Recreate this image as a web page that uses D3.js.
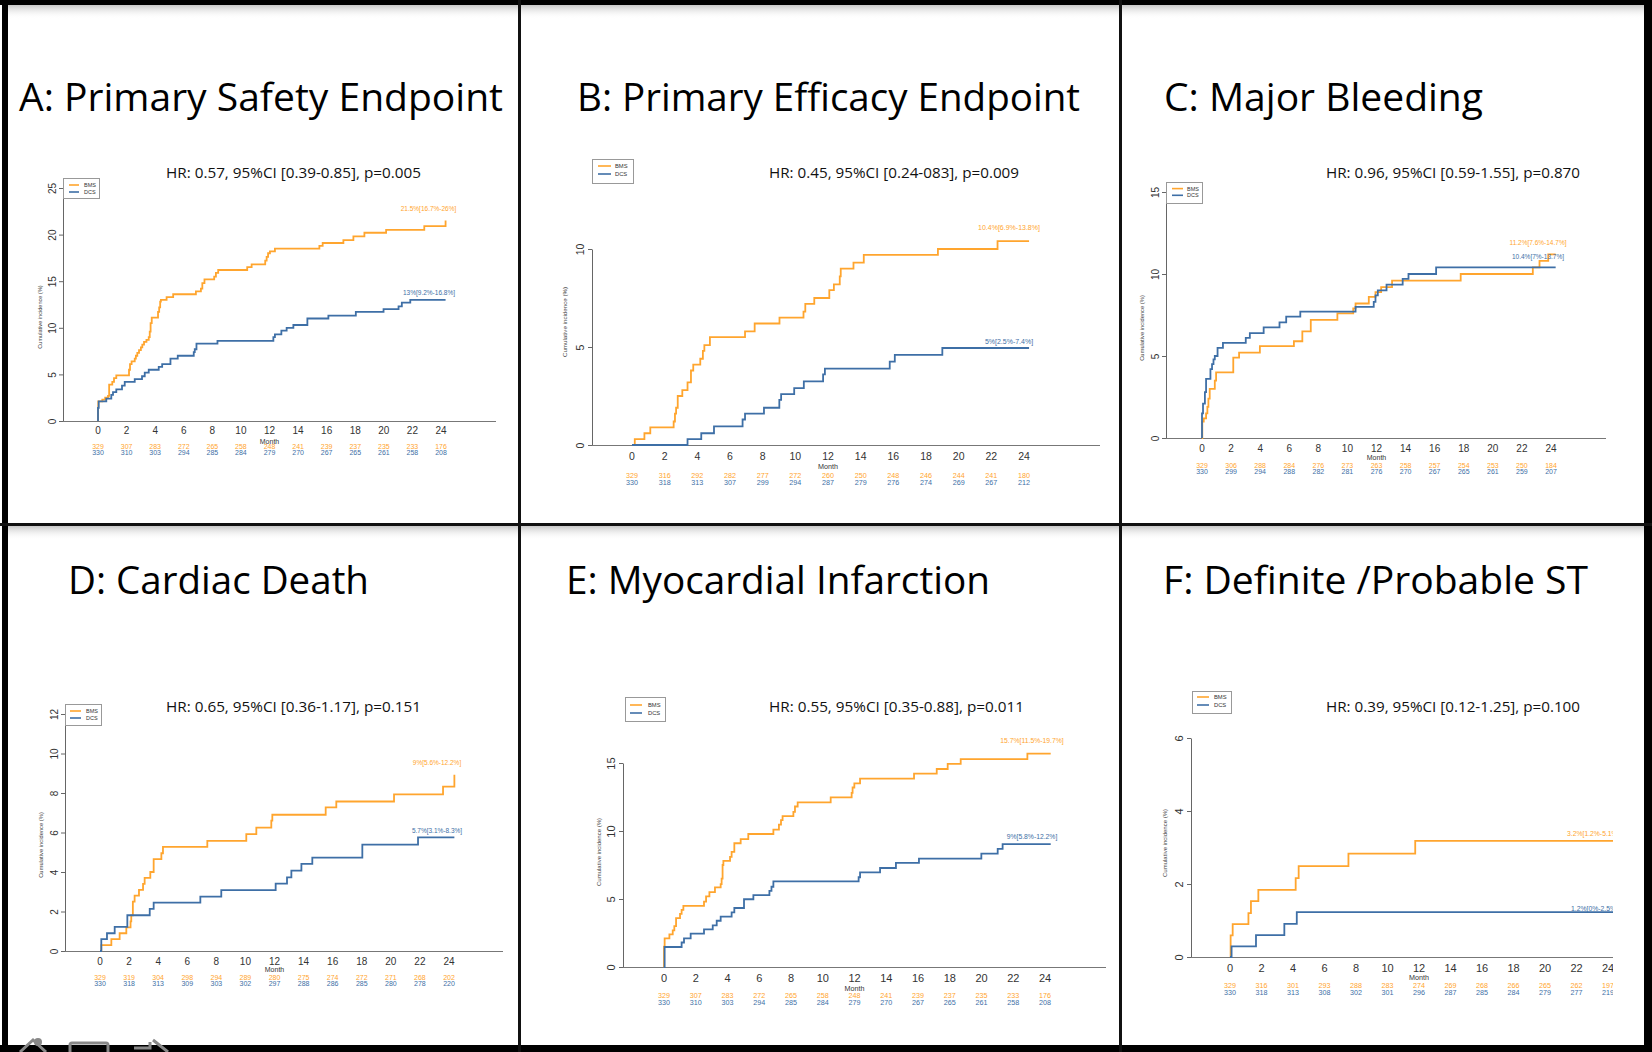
<!DOCTYPE html>
<html><head><meta charset="utf-8">
<script src="https://cdn.jsdelivr.net/npm/d3@7"></script>
<style>html,body{margin:0;padding:0;background:#fff;} svg{display:block;}</style>
</head><body>
<svg id="c" width="1652" height="1052"></svg>
<script>
// ---------------- DATA ----------------
const months = [0,2,4,6,8,10,12,14,16,18,20,22,24];
const seriesNames = ["BMS","DCS"];
const panelTitles = ["A: Primary Safety Endpoint","B: Primary Efficacy Endpoint","C: Major Bleeding",
                     "D: Cardiac Death","E: Myocardial Infarction","F: Definite /Probable ST"];
const hrTexts = ["HR: 0.57, 95%CI [0.39-0.85], p=0.005","HR: 0.45, 95%CI [0.24-083], p=0.009",
                 "HR: 0.96, 95%CI [0.59-1.55], p=0.870","HR: 0.65, 95%CI [0.36-1.17], p=0.151",
                 "HR: 0.55, 95%CI [0.35-0.88], p=0.011","HR: 0.39, 95%CI [0.12-1.25], p=0.100"];
const yTicksA = [0,5,10,15,20,25];
const yTicksB = [0,5,10];
const yTicksC = [0,5,10,15];
const yTicksD = [0,2,4,6,8,10,12];
const yTicksE = [0,5,10,15];
const yTicksF = [0,2,4,6];

const bmsA = [[0,0],[0,1.4],[0.02,2.1],[0.3,2.3],[0.5,2.5],[0.7,2.7],[0.78,3.9],[1.0,4.2],[1.12,4.6],[1.28,4.9],[2.17,5.5],[2.24,6.1],[2.35,6.4],[2.57,6.7],[2.65,7.0],[2.75,7.3],[2.87,7.6],[3.0,7.9],[3.1,8.2],[3.22,8.5],[3.39,8.7],[3.55,9.0],[3.62,9.6],[3.68,10.5],[3.76,11.1],[4.2,11.7],[4.28,12.2],[4.35,12.8],[4.4,13.0],[4.8,13.3],[5.26,13.6],[6.85,13.9],[7.2,14.2],[7.3,14.8],[7.45,15.2],[8.13,15.5],[8.25,15.9],[8.41,16.2],[10.44,16.5],[10.75,16.8],[11.7,17.2],[11.8,17.6],[11.9,18.0],[12.03,18.2],[12.38,18.5],[15.49,18.8],[15.72,19.1],[17.17,19.4],[17.87,19.8],[18.64,20.2],[20.16,20.5],[22.83,20.9],[24.32,21.5]];
const dcsA = [[0,0],[0,1.4],[0.05,2.1],[0.58,2.4],[0.93,2.8],[1.05,3.1],[1.28,3.4],[1.68,3.8],[1.87,4.2],[2.57,4.5],[3.08,4.8],[3.27,5.2],[3.55,5.5],[4.25,5.8],[4.49,6.1],[5.07,6.7],[5.58,7.0],[6.7,7.4],[6.77,7.7],[6.89,8.3],[8.36,8.6],[12.27,9.0],[12.38,9.3],[12.83,9.7],[13.2,10.0],[13.67,10.3],[14.65,11.0],[16.12,11.3],[18.04,11.7],[19.98,12.0],[21.03,12.3],[21.26,12.7],[21.85,13.0],[24.32,13.0]];
const bmsB = [[0,0],[0.06,0],[0.17,0.3],[0.76,0.6],[1.12,0.9],[2.55,1.2],[2.63,1.6],[2.7,1.9],[2.8,2.5],[3.08,2.8],[3.4,3.2],[3.61,3.8],[3.75,4.1],[4.18,4.4],[4.34,4.8],[4.43,5.1],[4.77,5.5],[6.92,5.8],[7.51,6.2],[9.03,6.5],[10.5,6.8],[10.61,7.2],[11.16,7.5],[12.08,7.9],[12.36,8.2],[12.72,8.6],[12.78,9.0],[13.56,9.3],[14.19,9.7],[18.73,10.0],[22.38,10.4],[24.31,10.4]];
const dcsB = [[0,0],[3.4,0.3],[4.24,0.6],[5.02,0.95],[6.77,1.3],[6.92,1.6],[8.08,1.9],[9.02,2.3],[9.13,2.6],[9.93,2.9],[10.52,3.25],[11.7,3.6],[11.81,3.9],[15.78,4.25],[16.09,4.6],[19.0,4.95],[24.31,4.95]];
const bmsC = [[0,0],[0.02,1.0],[0.12,1.2],[0.28,1.5],[0.37,1.9],[0.44,2.4],[0.53,3.0],[0.88,3.5],[0.97,4.0],[2.15,4.9],[2.55,5.2],[3.98,5.6],[6.32,5.9],[6.9,6.5],[7.48,7.2],[9.31,7.6],[10.4,7.9],[10.56,8.2],[11.47,8.6],[11.93,8.9],[12.32,9.2],[13.07,9.6],[17.79,10.0],[22.75,10.4],[23.21,10.8],[23.81,11.2],[24.32,11.2]];
const dcsC = [[0,0],[0,1.5],[0.07,2.1],[0.2,2.8],[0.28,3.6],[0.58,4.2],[0.69,4.5],[0.79,4.8],[0.88,5.0],[1.07,5.5],[1.44,5.8],[3.01,6.1],[3.29,6.4],[4.24,6.75],[5.33,7.05],[5.79,7.4],[6.76,7.7],[10.56,8.0],[11.81,8.3],[11.93,8.7],[12.09,9.0],[12.69,9.35],[13.8,9.7],[14.2,10.0],[16.1,10.4],[24.32,10.4]];
const bmsD = [[0,0],[0.09,0.3],[0.78,0.6],[1.35,0.9],[1.81,1.2],[2.1,1.5],[2.15,1.8],[2.26,2.5],[2.38,2.8],[2.68,3.1],[2.96,3.4],[3.07,3.7],[3.46,4.0],[3.69,4.65],[4.22,4.95],[4.33,5.27],[7.38,5.58],[10.06,5.92],[10.75,6.25],[11.78,6.6],[11.85,6.9],[15.52,7.27],[16.25,7.57],[20.22,7.93],[23.59,8.32],[24.37,8.92]];
const dcsD = [[0,0],[0.09,0.6],[0.48,0.9],[1.01,1.22],[1.88,1.81],[3.42,2.13],[3.69,2.45],[6.9,2.75],[8.34,3.08],[12.08,3.41],[12.86,3.73],[13.16,4.07],[13.85,4.41],[14.6,4.73],[18.04,5.39],[21.87,5.75],[24.37,5.75]];
const bmsE = [[0,0],[0,1.5],[0.04,2.1],[0.34,2.4],[0.55,2.7],[0.65,3.0],[0.76,3.6],[1.01,3.9],[1.11,4.2],[1.22,4.5],[2.52,4.8],[2.65,5.2],[2.86,5.5],[3.21,5.85],[3.57,6.1],[3.63,6.5],[3.69,7.5],[3.74,7.8],[4.16,8.1],[4.26,8.46],[4.43,9.1],[4.83,9.4],[5.31,9.78],[6.89,10.1],[7.24,10.47],[7.37,10.8],[7.47,11.1],[8.15,11.4],[8.25,11.8],[8.42,12.1],[10.5,12.47],[11.82,12.8],[11.88,13.2],[11.99,13.5],[12.35,13.85],[15.75,14.22],[17.18,14.56],[17.87,14.93],[18.69,15.29],[22.89,15.69],[24.36,15.69]];
const dcsE = [[0,0],[0.04,1.47],[1.11,1.8],[1.26,2.11],[1.68,2.45],[2.52,2.77],[3.07,3.06],[3.32,3.4],[3.57,3.7],[4.26,4.02],[4.43,4.34],[5.04,4.98],[5.63,5.29],[6.64,5.6],[6.77,5.9],[6.89,6.3],[12.26,6.6],[12.35,6.96],[13.61,7.28],[14.61,7.65],[16.06,7.97],[19.99,8.33],[21.02,8.68],[21.33,9.04],[24.36,9.04]];
const bmsF = [[0,0],[0.04,0.59],[0.17,0.9],[1.17,1.2],[1.33,1.53],[1.8,1.84],[4.17,2.16],[4.36,2.49],[7.52,2.83],[11.76,3.18],[24.4,3.18]];
const dcsF = [[0,0],[0.1,0.29],[1.65,0.6],[3.45,0.91],[4.24,1.23],[24.4,1.23]];

const riskBmsA = [329,307,283,272,265,258,248,241,239,237,235,233,176];
const riskDcsA = [330,310,303,294,285,284,279,270,267,265,261,258,208];
const riskBmsB = [329,316,292,282,277,272,260,250,248,246,244,241,180];
const riskDcsB = [330,318,313,307,299,294,287,279,276,274,269,267,212];
const riskBmsC = [329,306,288,284,276,273,263,258,257,254,253,250,184];
const riskDcsC = [330,299,294,288,282,281,276,270,267,265,261,259,207];
const riskBmsD = [329,319,304,298,294,289,280,275,274,272,271,268,202];
const riskDcsD = [330,318,313,309,303,302,297,288,286,285,280,278,220];
const riskBmsE = [329,307,283,272,265,258,248,241,239,237,235,233,176];
const riskDcsE = [330,310,303,294,285,284,279,270,267,265,261,258,208];
const riskBmsF = [329,316,301,293,288,283,274,269,268,266,265,262,197];
const riskDcsF = [330,318,313,308,302,301,296,287,285,284,279,277,219];

const endLabelsA = ["21.5%[16.7%-26%]","13%[9.2%-16.8%]"];
const endLabelsB = ["10.4%[6.9%-13.8%]","5%[2.5%-7.4%]"];
const endLabelsC = ["11.2%[7.6%-14.7%]","10.4%[7%-13.7%]"];
const endLabelsD = ["9%[5.6%-12.2%]","5.7%[3.1%-8.3%]"];
const endLabelsE = ["15.7%[11.5%-19.7%]","9%[5.8%-12.2%]"];
const endLabelsF = ["3.2%[1.2%-5.1%]","1.2%[0%-2.5%]"];

const yMaxes = [25,10,15,12,15,6];
const yAxisTitle = "Cumulative incidence (%)";
const xAxisTitle = "Month";

// ---------------- LAYOUT (positions/styles only) ----------------
const COL = {BMS:"#FFA52E", DCS:"#3E6FA6"};
const layout = [
 {titleX:19, titleW:484, titleY:111, hrCX:293.5, hrW:255, hrY:178, axX:63, x0:98, x24:441, y0:421, yTop:188, xEnd:496,
  tickY:433.5, monthY:443.5, r1:448.5, r2:454.5, fs:10, rfs:7,
  lg:{x:63,y:178,w:36,h:20,lx1:69,lx2:79,ly1:185,ly2:192,tx:84,fs:5.5}, ytX:40, ytY:317, ytFs:5.6,
  ann:[[428.5,209],[429,293]], annAnchor:"middle", annFs:6.5, clip:null},
 {titleX:577, titleW:503, titleY:111, hrCX:894, hrW:250, hrY:178, axX:592, x0:632, x24:1024, y0:445, yTop:249, xEnd:1100,
  tickY:460, monthY:468.5, r1:477.5, r2:484.5, fs:10.5, rfs:7.2,
  lg:{x:592,y:159,w:41,h:24,lx1:598,lx2:611,ly1:166,ly2:174,tx:615,fs:5.8}, ytX:565, ytY:322, ytFs:6.2,
  ann:[[1009,228],[1009,342]], annAnchor:"middle", annFs:7, clip:null},
 {titleX:1164, titleW:319, titleY:111, hrCX:1453, hrW:254, hrY:178, axX:1166, x0:1202, x24:1551, y0:438, yTop:192, xEnd:1606,
  tickY:451.5, monthY:459.5, r1:467.5, r2:473.5, fs:10, rfs:7,
  lg:{x:1166,y:182,w:36,h:21,lx1:1172,lx2:1183,ly1:188.6,ly2:195.3,tx:1187,fs:5.5}, ytX:1142, ytY:328, ytFs:5.8,
  ann:[[1538,243],[1538,257]], annAnchor:"middle", annFs:6.5, clip:null},
 {titleX:68, titleW:301, titleY:594, hrCX:293.5, hrW:255, hrY:712, axX:65, x0:100, x24:449, y0:951, yTop:714, xEnd:503,
  tickY:964.5, monthY:971.5, r1:979.5, r2:985.5, fs:10, rfs:7,
  lg:{x:65,y:704,w:36,h:21,lx1:70,lx2:81,ly1:711,ly2:718,tx:86,fs:5.5}, ytX:41, ytY:845, ytFs:5.8,
  ann:[[437,763],[437,831]], annAnchor:"middle", annFs:6.5, clip:null},
 {titleX:566, titleW:424, titleY:594, hrCX:896.5, hrW:255, hrY:712, axX:623, x0:664, x24:1045, y0:967, yTop:763, xEnd:1106,
  tickY:982, monthY:990.5, r1:997.5, r2:1004.5, fs:11, rfs:7.2,
  lg:{x:625,y:697,w:40,h:24,lx1:630,lx2:642,ly1:705,ly2:713,tx:648,fs:5.8}, ytX:599, ytY:852, ytFs:6,
  ann:[[1032,741],[1032,837]], annAnchor:"middle", annFs:6.8, clip:null},
 {titleX:1163, titleW:425, titleY:594, hrCX:1453, hrW:254, hrY:712, axX:1191, x0:1230, x24:1608, y0:957, yTop:738, xEnd:1650,
  tickY:972, monthY:979.5, r1:987.5, r2:994.5, fs:11, rfs:7.2,
  lg:{x:1192,y:691,w:39,h:22,lx1:1197,lx2:1209,ly1:697,ly2:705,tx:1214,fs:5.8}, ytX:1165, ytY:843, ytFs:6,
  ann:[[1567,834],[1571,909]], annAnchor:"start", annFs:6.8, clip:1613}
];

const panels = [
 {bms:bmsA, dcs:dcsA, rb:riskBmsA, rd:riskDcsA, ticks:yTicksA, labels:endLabelsA},
 {bms:bmsB, dcs:dcsB, rb:riskBmsB, rd:riskDcsB, ticks:yTicksB, labels:endLabelsB},
 {bms:bmsC, dcs:dcsC, rb:riskBmsC, rd:riskDcsC, ticks:yTicksC, labels:endLabelsC},
 {bms:bmsD, dcs:dcsD, rb:riskBmsD, rd:riskDcsD, ticks:yTicksD, labels:endLabelsD},
 {bms:bmsE, dcs:dcsE, rb:riskBmsE, rd:riskDcsE, ticks:yTicksE, labels:endLabelsE},
 {bms:bmsF, dcs:dcsF, rb:riskBmsF, rd:riskDcsF, ticks:yTicksF, labels:endLabelsF}
];

// ---------------- DRAW ----------------
const svg = d3.select("#c");
const defs = svg.append("defs");
const grad = defs.append("linearGradient").attr("id","shade").attr("x1",0).attr("x2",0).attr("y1",0).attr("y2",1);
grad.append("stop").attr("offset","0%").attr("stop-color","#9a9a9a").attr("stop-opacity",0.55);
grad.append("stop").attr("offset","100%").attr("stop-color","#ffffff").attr("stop-opacity",0);
svg.append("rect").attr("width",1652).attr("height",1052).attr("fill","#fff");

const NUM = "'Liberation Sans', Arial, sans-serif";
const TTL = "'Open Sans', 'Noto Sans', sans-serif";

panels.forEach((pd, i) => {
  const p = layout[i];
  const root = svg.append("g");
  // title
  root.append("text").attr("x",p.titleX).attr("y",p.titleY).text(panelTitles[i])
    .attr("font-family",TTL).attr("font-size",39).attr("fill","#000")
    .attr("textLength",p.titleW).attr("lengthAdjust","spacingAndGlyphs");

  let g = root.append("g");
  if (p.clip) {
    defs.append("clipPath").attr("id","clip"+i).append("rect")
      .attr("x",0).attr("y",0).attr("width",p.clip).attr("height",1052);
    g.attr("clip-path",`url(#clip${i})`);
  }
  // HR text
  g.append("text").attr("x",p.hrCX).attr("y",p.hrY).attr("text-anchor","middle").text(hrTexts[i])
    .attr("font-family",TTL).attr("font-size",15.3).attr("fill","#111")
    .attr("textLength",p.hrW).attr("lengthAdjust","spacingAndGlyphs");

  const x = d3.scaleLinear().domain([0,24]).range([p.x0,p.x24]);
  const y = d3.scaleLinear().domain([0,yMaxes[i]]).range([p.y0,p.yTop]);

  // y axis
  const gy = g.append("g").attr("transform",`translate(${p.axX},0)`)
    .call(d3.axisLeft(y).tickValues(pd.ticks).tickSize(4).tickSizeOuter(0).tickFormat(d3.format("d")));
  gy.select(".domain").attr("stroke","#666").attr("stroke-width",1);
  gy.selectAll(".tick line").attr("stroke","#666");
  gy.selectAll(".tick text").attr("x",0).attr("dy",null).attr("y",0)
    .attr("transform",`translate(${-(p.fs*0.72)},0) rotate(-90)`).attr("text-anchor","middle")
    .attr("font-family",NUM).attr("font-size",p.fs).attr("fill","#333");

  // x axis line
  g.append("line").attr("x1",p.axX).attr("x2",p.xEnd).attr("y1",y(0)+0.5).attr("y2",y(0)+0.5)
    .attr("stroke","#777").attr("stroke-width",1);
  // x tick labels
  g.append("g").selectAll("text").data(months).join("text")
    .attr("x",d=>x(d)).attr("y",p.tickY).attr("text-anchor","middle").text(d=>d)
    .attr("font-family",NUM).attr("font-size",p.fs).attr("fill","#333");
  g.append("text").attr("x",x(12)).attr("y",p.monthY).attr("text-anchor","middle").text(xAxisTitle)
    .attr("font-family",NUM).attr("font-size",p.rfs).attr("fill","#333");

  // numbers at risk
  g.append("g").selectAll("text").data(pd.rb).join("text")
    .attr("x",(d,k)=>x(months[k])).attr("y",p.r1).attr("text-anchor","middle").text(d=>d)
    .attr("font-family",NUM).attr("font-size",p.rfs).attr("fill",COL.BMS);
  g.append("g").selectAll("text").data(pd.rd).join("text")
    .attr("x",(d,k)=>x(months[k])).attr("y",p.r2).attr("text-anchor","middle").text(d=>d)
    .attr("font-family",NUM).attr("font-size",p.rfs).attr("fill",COL.DCS);

  // y axis title
  g.append("text").attr("transform",`translate(${p.ytX},${p.ytY}) rotate(-90)`).attr("text-anchor","middle")
    .attr("dy","0.35em").text(yAxisTitle).attr("font-family",NUM).attr("font-size",p.ytFs).attr("fill","#444");

  // curves
  const line = d3.line().x(d=>x(d[0])).y(d=>y(d[1])).curve(d3.curveStepAfter);
  [["BMS",pd.bms],["DCS",pd.dcs]].forEach(([name,data]) => {
    g.append("path").datum(data).attr("d",line).attr("fill","none")
      .attr("stroke",COL[name]).attr("stroke-width",1.8).attr("stroke-linejoin","miter");
  });

  // end labels
  pd.labels.forEach((t,k) => {
    g.append("text").attr("x",p.ann[k][0]).attr("y",p.ann[k][1]).attr("dy","0.35em")
      .attr("text-anchor",p.annAnchor).text(t)
      .attr("font-family",NUM).attr("font-size",p.annFs).attr("fill",k===0?COL.BMS:COL.DCS);
  });

  // legend
  const lg = p.lg;
  g.append("rect").attr("x",lg.x+0.5).attr("y",lg.y+0.5).attr("width",lg.w).attr("height",lg.h)
    .attr("fill","#fff").attr("stroke","#999").attr("stroke-width",1);
  [[lg.ly1,"BMS"],[lg.ly2,"DCS"]].forEach(([ly,name]) => {
    g.append("line").attr("x1",lg.lx1).attr("x2",lg.lx2).attr("y1",ly).attr("y2",ly)
      .attr("stroke",COL[name]).attr("stroke-width",1.6);
    g.append("text").attr("x",lg.tx).attr("y",ly).attr("dy","0.35em").text(name)
      .attr("font-family",NUM).attr("font-size",lg.fs).attr("fill","#333");
  });
});

// ---------------- FRAME ----------------
const frame = svg.append("g");
frame.append("rect").attr("x",6).attr("y",5).attr("width",1638).attr("height",14).attr("fill","url(#shade)");
frame.append("rect").attr("x",6).attr("y",526).attr("width",1638).attr("height",14).attr("fill","url(#shade)");
frame.append("rect").attr("x",0).attr("y",0).attr("width",1652).attr("height",5).attr("fill","#000");
frame.append("rect").attr("x",2).attr("y",0).attr("width",6).attr("height",1052).attr("fill","#000");
frame.append("rect").attr("x",1644).attr("y",0).attr("width",8).attr("height",1052).attr("fill","#000");
frame.append("rect").attr("x",0).attr("y",1045).attr("width",1652).attr("height",7).attr("fill","#000");
frame.append("rect").attr("x",518).attr("y",0).attr("width",3).attr("height",1052).attr("fill","#111");
frame.append("rect").attr("x",1119).attr("y",0).attr("width",3).attr("height",1052).attr("fill","#111");
frame.append("rect").attr("x",0).attr("y",523).attr("width",1652).attr("height",3).attr("fill","#111");
// small viewer icons at bottom-left
const ic = frame.append("g").attr("fill","none").attr("stroke","#888").attr("stroke-width",3);
ic.append("path").attr("d","M20,1052 L33,1040 L46,1052");
ic.append("circle").attr("cx",38).attr("cy",1042).attr("r",4).attr("fill","#888").attr("stroke","none");
ic.append("rect").attr("x",70).attr("y",1043).attr("width",38).attr("height",12).attr("rx",2);
ic.append("path").attr("d","M134,1048 L150,1048 L150,1042 M153,1040 L168,1052");
</script>
</body></html>
